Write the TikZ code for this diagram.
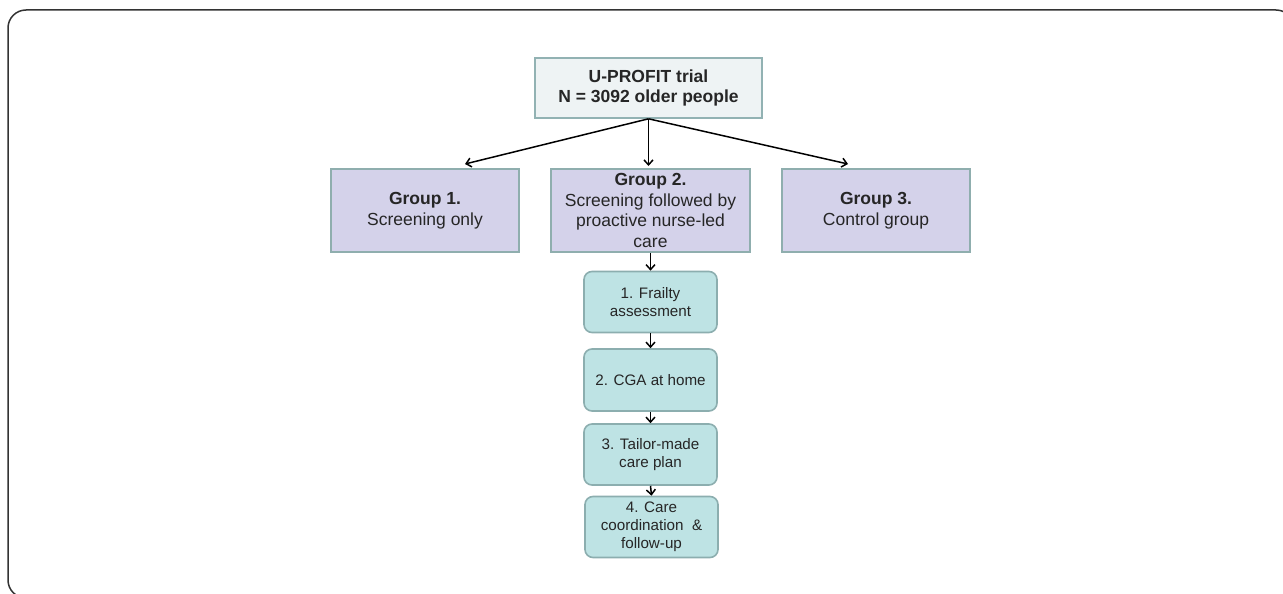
\documentclass[tikz,border=0pt]{standalone}
\usepackage{fontspec}
\setmainfont{Liberation Sans}
\usetikzlibrary{arrows.meta}
\definecolor{txt}{HTML}{262626}
\definecolor{topfill}{HTML}{EEF3F4}
\definecolor{topdraw}{HTML}{92B2B3}
\definecolor{grpfill}{HTML}{D4D2EA}
\definecolor{grpdraw}{HTML}{8FAEAE}
\definecolor{chfill}{HTML}{BEE3E4}
\definecolor{chdraw}{HTML}{8CAEAF}
\definecolor{frame}{HTML}{333333}
\tikzset{
  topbox/.style={draw=topdraw, fill=topfill, line width=1.6pt, minimum width=227pt, minimum height=60pt,
    inner sep=0pt, align=center, text=txt, font=\fontsize{17.5}{19.5}\selectfont\bfseries},
  grpbox/.style={draw=grpdraw, fill=grpfill, line width=1.6pt, minimum height=83pt,
    inner sep=0pt, align=center, text=txt, font=\fontsize{17.5}{20.5}\selectfont},
  chbox/.style={draw=chdraw, fill=chfill, line width=1.6pt, rounded corners=8pt, minimum width=133pt,
    minimum height=61pt, inner sep=0pt, align=center, text=txt, font=\fontsize{15.2}{18}\selectfont},
  arr/.style={draw=black, line width=1.5pt, -{Straight Barb[length=5pt,width=9pt]}}
}
\begin{document}
\begin{tikzpicture}[x=1pt,y=-1pt]
\useasboundingbox (0,0) rectangle (1283,594);
\begin{scope}
\clip (0,0) rectangle (1283,594);
\draw[frame, line width=1.5pt, rounded corners=18pt] (8,10) rectangle (1294,598);
\end{scope}

\node[topbox] (top) at (648.5,88) {U-PROFIT trial\\N = 3092 older people};

\node[grpbox, minimum width=188pt] (g1) at (425,210.5) {\textbf{Group 1.}\\Screening only};
\node[grpbox, minimum width=199pt] (g2) at (650.5,210.5) {\textbf{Group 2.}\\Screening followed by\\proactive nurse-led\\care};
\node[grpbox, minimum width=188pt] (g3) at (876,210.5) {\textbf{Group 3.}\\Control group};

\node[chbox] (c1) at (650.5,302) {1. Frailty\\assessment};
\node[chbox, minimum height=62pt] (c2) at (650.5,380) {2. CGA at home};
\node[chbox] (c3) at (650.5,454.5) {3. Tailor-made\\care plan};
\node[chbox] (c4) at (651.5,527) {4. Care\\coordination \ \&\\follow-up};

\coordinate (t1) at (465,164);
\coordinate (t3) at (848,164);
\coordinate (t2) at (648.5,166);

\draw[arr] (top.south) -- (t1);
\draw[arr] (top.south) -- (t2);
\draw[arr] (top.south) -- (t3);

\draw[arr] (g2.south) -- (c1.north);
\draw[arr] (c1.south) -- (c2.north);
\draw[arr] (c2.south) -- (c3.north);
\draw[arr] (c3.south) -- (c4.north);
\end{tikzpicture}
\end{document}
